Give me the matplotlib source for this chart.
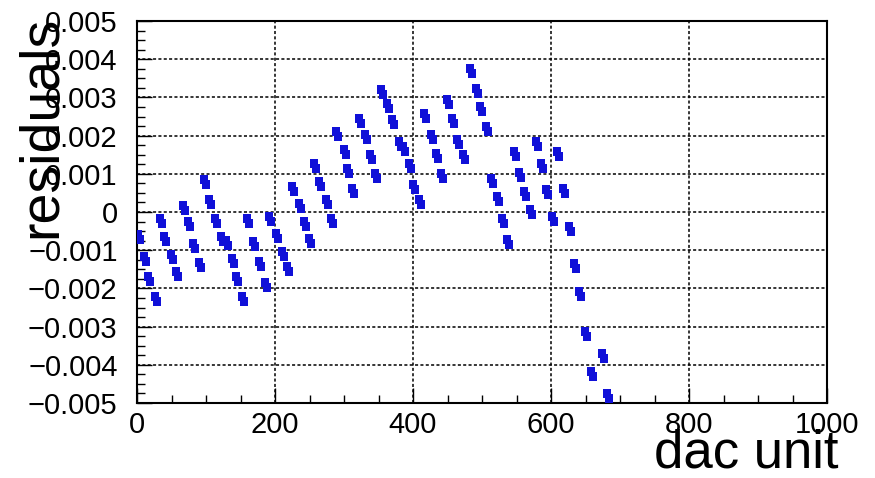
import matplotlib
matplotlib.use("Agg")
import matplotlib.pyplot as plt
from matplotlib.path import Path
from matplotlib.ticker import MultipleLocator, FixedLocator

# ---- data ----
dac = [3, 11, 18, 27,
       35, 41, 50, 58,
       68, 76, 82, 91,
       99, 106, 115, 123, 130, 139, 145, 154,
       161, 170, 178, 187,
       193, 203, 212, 219,
       226, 236, 244, 251,
       258, 265, 275, 283,
       290, 301, 306, 313,
       323, 332, 339, 346,
       355, 364, 371, 381, 387, 396, 401, 410,
       417, 428, 435, 442,
       451, 458, 465, 474,
       484, 493, 499, 507,
       515, 523, 530, 538,
       548, 555, 562, 571,
       580, 587, 594, 603,
       610, 619, 628, 635, 642, 651, 659, 675, 683]
residuals = [-0.00065, -0.00123, -0.00175, -0.00227,
             -0.00024, -0.00071, -0.00118, -0.00162,
             0.00010, -0.00031, -0.00089, -0.00139,
             0.00078, 0.00026, -0.00024, -0.00071, -0.00081, -0.00128, -0.00175, -0.00227,
             -0.00024, -0.00084, -0.00136, -0.00191,
             -0.00018, -0.00063, -0.00110, -0.00149,
             0.00060, 0.00016, -0.00031, -0.00076,
             0.00120, 0.00073, 0.00026, -0.00024,
             0.00204, 0.00157, 0.00107, 0.00055,
             0.00238, 0.00196, 0.00144, 0.00094,
             0.00314, 0.00277, 0.00236, 0.00178, 0.00165, 0.00120, 0.00065, 0.00026,
             0.00251, 0.00196, 0.00147, 0.00094,
             0.00288, 0.00238, 0.00183, 0.00144,
             0.00369, 0.00317, 0.00269, 0.00217,
             0.00081, 0.00034, -0.00024, -0.00079,
             0.00152, 0.00097, 0.00047, 0.00000,
             0.00178, 0.00120, 0.00052, -0.00018,
             0.00152, 0.00055, -0.00044, -0.00141, -0.00214, -0.00319, -0.00423, -0.00376, -0.00481]

x_ticks = [0, 200, 400, 600, 800, 1000]
x_tick_labels = ["0", "200", "400", "600", "800", "1000"]
y_ticks = [0.005, 0.004, 0.003, 0.002, 0.001, 0.0, -0.001, -0.002, -0.003, -0.004, -0.005]
y_tick_labels = ["0.005", "0.004", "0.003", "0.002", "0.001", "0",
                 "\u22120.001", "\u22120.002", "\u22120.003", "\u22120.004", "\u22120.005"]
x_label = "dac unit"
y_label = "residuals"

# ---- style ----
plt.rcParams['font.family'] = ['Liberation Sans', 'DejaVu Sans']
blue = '#1010d8'

# slanted blob marker (two strongly overlapping squares)
verts = [(-0.62, 0.9), (0.34, 0.9), (0.34, 0.3), (0.62, 0.3), (0.62, -0.9),
         (-0.34, -0.9), (-0.34, -0.3), (-0.62, -0.3), (-0.62, 0.9)]
codes = [Path.MOVETO] + [Path.LINETO] * 7 + [Path.CLOSEPOLY]
blob = Path(verts, codes)

fig = plt.figure(figsize=(8.75, 4.78), dpi=100)
ax = fig.add_axes([137 / 875, 1 - 403 / 478, 690 / 875, 382 / 478])

ax.plot(dac, residuals, linestyle='none', marker=blob, markersize=10.5,
        color=blue, markeredgewidth=0, clip_on=True, zorder=3)

ax.set_xlim(0, 1000)
ax.set_ylim(-0.005, 0.005)

ax.xaxis.set_major_locator(FixedLocator(x_ticks))
ax.set_xticklabels(x_tick_labels)
ax.xaxis.set_minor_locator(MultipleLocator(50))
ax.yaxis.set_major_locator(FixedLocator(y_ticks))
ax.set_yticklabels(y_tick_labels)
ax.yaxis.set_minor_locator(MultipleLocator(0.00025))

ax.tick_params(axis='both', which='major', direction='in', length=11, width=1.0,
               labelsize=21, colors='black')
ax.tick_params(axis='both', which='minor', direction='in', length=6, width=1.0)
ax.tick_params(axis='x', which='major', pad=6)
ax.tick_params(axis='y', which='major', pad=14)
ax.tick_params(top=False, right=False, which='both')

ax.grid(True, which='major', color='black', linestyle=(0, (2.0, 1.5)), linewidth=1.1)
for s in ax.spines.values():
    s.set_linewidth(1.5)
    s.set_color('black')

ax.text(-0.138, 0.722, y_label, transform=ax.transAxes, rotation=90,
        ha='center', va='center', fontsize=40, color='black', zorder=5)
fig.text(838 / 875, 1 - 468 / 478, x_label, ha='right', va='baseline',
         fontsize=38, color='black')

fig.savefig('out.png', dpi=100, facecolor='white')
